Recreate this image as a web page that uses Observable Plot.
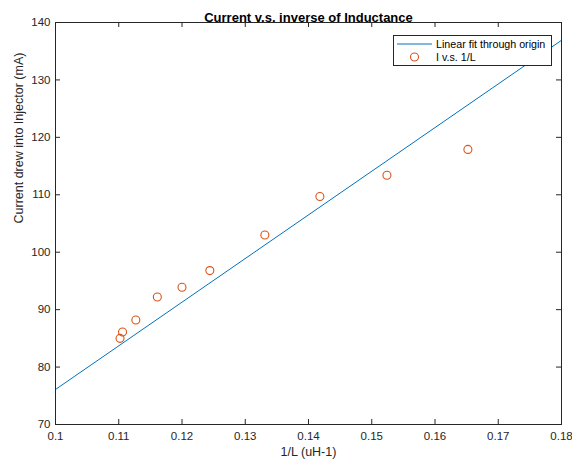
<!DOCTYPE html>
<html><head><meta charset="utf-8">
<script src="https://cdn.jsdelivr.net/npm/d3@7"></script>
<script src="https://cdn.jsdelivr.net/npm/@observablehq/plot@0.6"></script>
<style>
body{margin:0;background:#fff;}
#wrap{position:relative;width:572px;height:464px;font-family:"Liberation Sans",Arial,sans-serif;}
</style></head><body><div id="wrap"></div>
<script>
// measured points: 1/L (uH^-1) vs current (mA)
const invL = [0.1102, 0.1106, 0.1127, 0.1161, 0.1200, 0.1244, 0.1331, 0.1418, 0.1524, 0.1652];
const current = [85.0, 86.1, 88.2, 92.2, 93.9, 96.8, 103.0, 109.7, 113.4, 117.9];
// linear fit through origin, endpoints read at the axis limits
const fitX = [0.1, 0.18];
const fitY = [76.1, 136.9];
const xTicks = [0.1, 0.11, 0.12, 0.13, 0.14, 0.15, 0.16, 0.17, 0.18];
const xTickLabels = ["0.1", "0.11", "0.12", "0.13", "0.14", "0.15", "0.16", "0.17", "0.18"];
const yTicks = [70, 80, 90, 100, 110, 120, 130, 140];
const yTickLabels = ["70", "80", "90", "100", "110", "120", "130", "140"];
const titleText = "Current v.s. inverse of Inductance";
const xLabel = "1/L (uH-1)";
const yLabel = "Current drew into Injector (mA)";
const seriesNames = ["Linear fit through origin", "I v.s. 1/L"];

const pts = invL.map((x, i) => ({x, y: current[i]}));
const fit = fitX.map((x, i) => ({x, y: fitY[i]}));
const axisColor = "#262626";
const lineColor = "#0072BD";
const dotColor = "#D95319";
const W = 572, H = 464, mT = 22, mB = 40, mL = 55, mR = 11;
const innerH = H - mT - mB, innerW = W - mL - mR;
const tk = 5;
const font = "'Liberation Sans', Arial, sans-serif";

const chart = Plot.plot({
  width: W, height: H,
  marginTop: mT, marginBottom: mB, marginLeft: mL, marginRight: mR,
  style: {fontFamily: font, fontSize: "11.5px", color: axisColor, background: "#fff"},
  x: {domain: [0.1, 0.18], ticks: xTicks, tickFormat: (d, i) => xTickLabels[i], label: null},
  y: {domain: [70, 140], ticks: yTicks, tickFormat: (d, i) => yTickLabels[i], label: null},
  marks: [
    Plot.axisX({ticks: xTicks, tickSize: 0, tickPadding: 7, tickFormat: (d, i) => xTickLabels[i], fontSize: 11.5, fill: axisColor, label: null}),
    Plot.axisY({ticks: yTicks, tickSize: 0, tickPadding: 5, tickFormat: (d, i) => yTickLabels[i], fontSize: 11.5, fill: axisColor, label: null}),
    // inward ticks on all four sides
    Plot.ruleX(xTicks, {x: d => d, insetTop: innerH - tk, stroke: axisColor}),
    Plot.ruleX(xTicks, {x: d => d, insetBottom: innerH - tk, stroke: axisColor}),
    Plot.ruleY(yTicks, {y: d => d, insetRight: innerW - tk, stroke: axisColor}),
    Plot.ruleY(yTicks, {y: d => d, insetLeft: innerW - tk, stroke: axisColor}),
    Plot.line(fit, {x: "x", y: "y", stroke: lineColor, strokeWidth: 1, clip: true}),
    Plot.dot(pts, {x: "x", y: "y", r: 4, stroke: dotColor, strokeWidth: 1.1, fill: "none"}),
    Plot.frame({stroke: axisColor, strokeWidth: 1}),
    Plot.text([titleText], {text: d => d, frameAnchor: "top", dy: -10, fontWeight: "bold", fontSize: 13, fill: "#000"}),
    Plot.text([xLabel], {text: d => d, frameAnchor: "bottom", dy: 31, fontSize: 12.5, fill: axisColor}),
    Plot.text([yLabel], {text: d => d, frameAnchor: "left", dx: -37, rotate: -90, fontSize: 12.5, fill: axisColor})
  ]
});
const wrap = document.getElementById("wrap");
wrap.appendChild(chart);

// legend box inside the plot area (top-right)
const lg = d3.create("svg").attr("width", 160).attr("height", 32)
  .style("position", "absolute").style("left", "393px").style("top", "35px");
lg.append("rect").attr("x", 0.5).attr("y", 0.5).attr("width", 158).attr("height", 30)
  .attr("fill", "#fff").attr("stroke", axisColor).attr("stroke-width", 1);
lg.append("line").attr("x1", 4).attr("x2", 39).attr("y1", 9).attr("y2", 9)
  .attr("stroke", lineColor).attr("stroke-width", 1);
lg.append("circle").attr("cx", 21.5).attr("cy", 22).attr("r", 4)
  .attr("fill", "none").attr("stroke", dotColor).attr("stroke-width", 1.1);
seriesNames.forEach((s, i) => {
  lg.append("text").attr("x", 43).attr("y", 13 + i * 13).attr("font-size", 10.7)
    .attr("font-family", font).attr("fill", "#000").text(s);
});
wrap.appendChild(lg.node());
</script></body></html>
